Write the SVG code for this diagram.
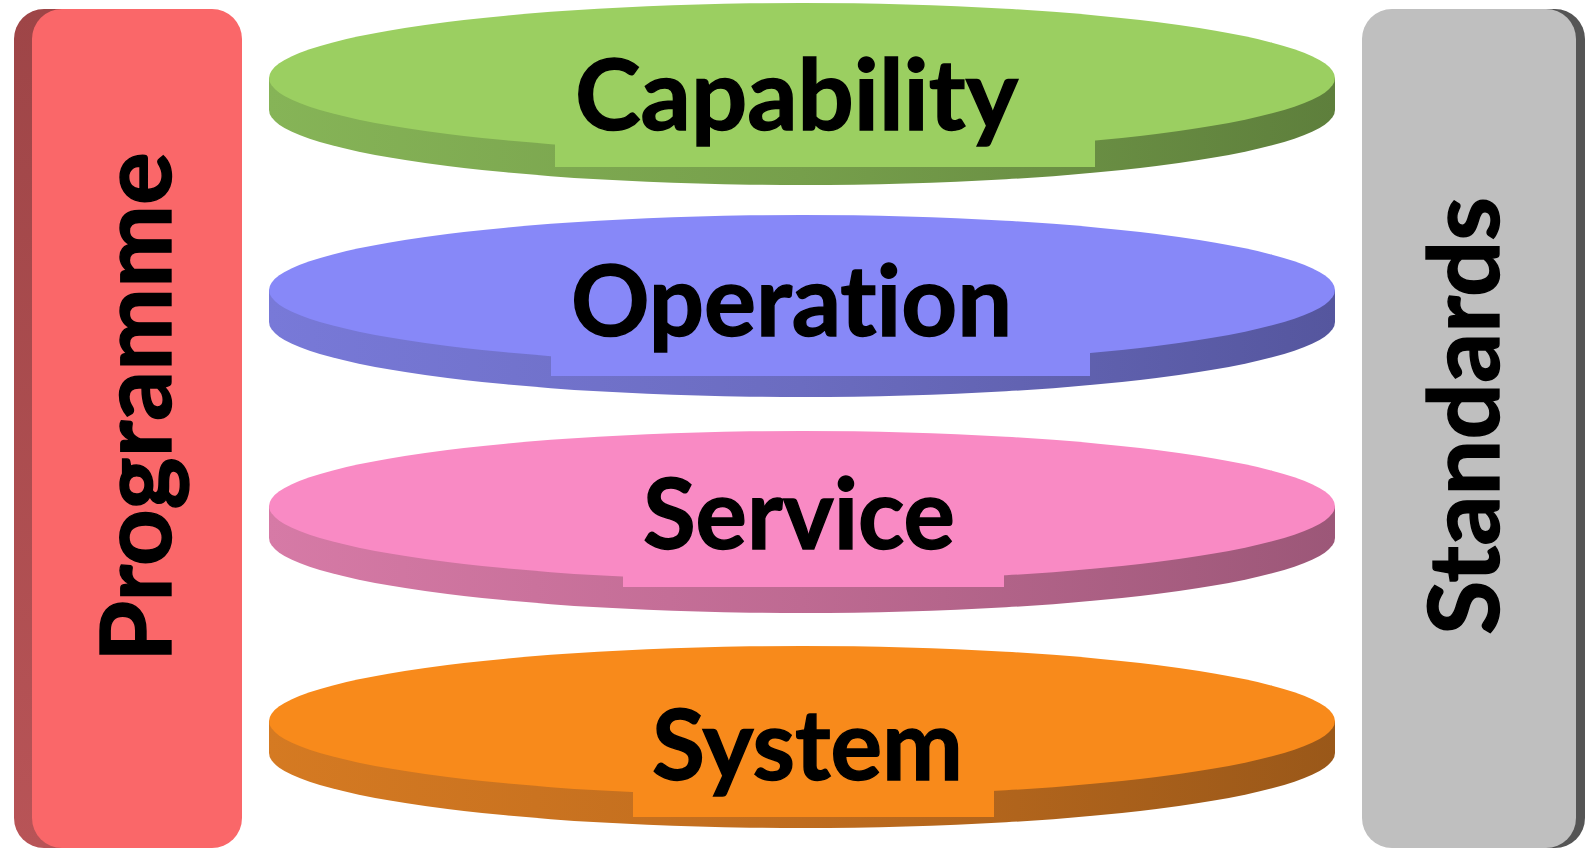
<svg xmlns="http://www.w3.org/2000/svg" width="1586" height="854" viewBox="0 0 1586 854">
<defs>
<style>
.lbl{font-family:Lato,"Open Sans","DejaVu Sans",sans-serif;font-weight:700;font-size:98px;fill:#000;stroke:#000;stroke-width:1.4px;font-variant-ligatures:none;font-feature-settings:"liga" 0}
</style>
<linearGradient id="gGreen" x1="0" y1="0" x2="1" y2="0"><stop offset="0" stop-color="#86B457"/><stop offset="0.5" stop-color="#769F4B"/><stop offset="1" stop-color="#5E7F3C"/></linearGradient>
<linearGradient id="gBlue" x1="0" y1="0" x2="1" y2="0"><stop offset="0" stop-color="#7879D8"/><stop offset="0.5" stop-color="#6B6CC0"/><stop offset="1" stop-color="#55569E"/></linearGradient>
<linearGradient id="gPink" x1="0" y1="0" x2="1" y2="0"><stop offset="0" stop-color="#D67AA6"/><stop offset="0.5" stop-color="#BE6A92"/><stop offset="1" stop-color="#9C5778"/></linearGradient>
<linearGradient id="gOrange" x1="0" y1="0" x2="1" y2="0"><stop offset="0" stop-color="#D57A22"/><stop offset="0.5" stop-color="#BF6C1E"/><stop offset="1" stop-color="#9A5819"/></linearGradient>
<linearGradient id="gRed" x1="0" y1="0" x2="0" y2="1"><stop offset="0" stop-color="#9E4547"/><stop offset="1" stop-color="#B85457"/></linearGradient>
</defs>
<rect width="1586" height="854" fill="#fff"/>

<g id="programme">
<rect x="14" y="9" width="210" height="839" rx="30" fill="url(#gRed)"/>
<rect x="32" y="9" width="210" height="839" rx="30" fill="#FA6769"/>
<text class="lbl" transform="translate(171,662) rotate(-90)" textLength="510" lengthAdjust="spacingAndGlyphs">Programme</text>
</g>

<g id="standards">
<rect x="1371" y="9" width="214" height="839" rx="30" fill="#555555"/>
<rect x="1362" y="9" width="214" height="839" rx="30" fill="#BFBFBF"/>
<text class="lbl" transform="translate(1499,635) rotate(-90)" textLength="438" lengthAdjust="spacingAndGlyphs">Standards</text>
</g>

<g id="capability">
<path d="M269 78 L269 110 A533 75 0 0 0 1335 110 L1335 78 Z" fill="url(#gGreen)"/>
<ellipse cx="802" cy="78" rx="533" ry="75" fill="#9BCF61"/>
<rect x="555" y="78" width="540" height="89" fill="#9BCF61"/>
<text class="lbl" x="575" y="130" textLength="443" lengthAdjust="spacingAndGlyphs">Capability</text>
</g>

<g id="operation">
<path d="M269 290 L269 322 A533 75 0 0 0 1335 322 L1335 290 Z" fill="url(#gBlue)"/>
<ellipse cx="802" cy="290" rx="533" ry="75" fill="#8788F8"/>
<rect x="551" y="290" width="539" height="86" fill="#8788F8"/>
<text class="lbl" x="571" y="336" textLength="441" lengthAdjust="spacingAndGlyphs">Operation</text>
</g>

<g id="service">
<path d="M269 506 L269 538 A533 75 0 0 0 1335 538 L1335 506 Z" fill="url(#gPink)"/>
<ellipse cx="802" cy="506" rx="533" ry="75" fill="#F98AC4"/>
<rect x="623" y="506" width="381" height="81" fill="#F98AC4"/>
<text class="lbl" x="643" y="549" textLength="312" lengthAdjust="spacingAndGlyphs">Service</text>
</g>

<g id="system">
<path d="M269 721 L269 753 A533 75 0 0 0 1335 753 L1335 721 Z" fill="url(#gOrange)"/>
<ellipse cx="802" cy="721" rx="533" ry="75" fill="#F88A1B"/>
<rect x="633" y="721" width="361" height="96" fill="#F88A1B"/>
<text class="lbl" x="652" y="780" textLength="311" lengthAdjust="spacingAndGlyphs">System</text>
</g>
</svg>
